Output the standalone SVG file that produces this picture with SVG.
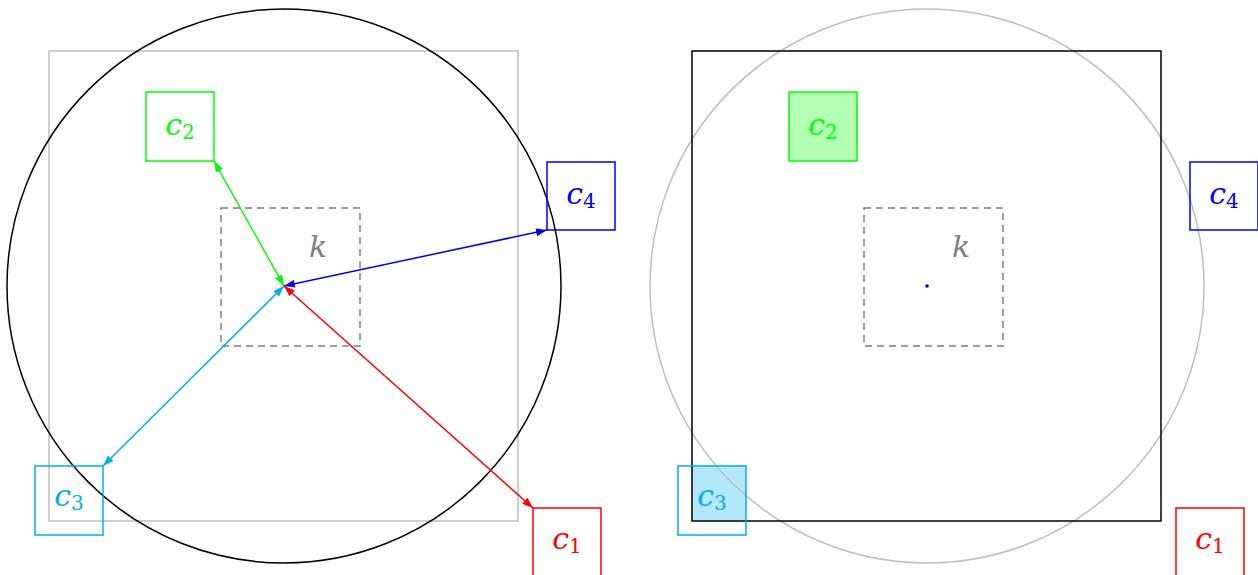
<svg xmlns="http://www.w3.org/2000/svg" width="1258" height="575" viewBox="0 0 1258 575">
<style>
.lbl{font-family:"DejaVu Serif","Liberation Serif",serif;font-size:30px;text-anchor:middle}
.it{font-style:italic}
.sub{font-size:20px;font-style:normal}
.box{fill:none;stroke-width:1.5}
.dash{fill:none;stroke:#808080;stroke-width:1.5;stroke-dasharray:7,5}
</style>
<defs>
<marker id="aG" viewBox="0 0 11 8" refX="11" refY="4" markerWidth="11" markerHeight="8" markerUnits="userSpaceOnUse" orient="auto-start-reverse"><path d="M0,0 L11,4 L0,8 Z" fill="#00ff00"/></marker>
<marker id="aB" viewBox="0 0 11 8" refX="11" refY="4" markerWidth="11" markerHeight="8" markerUnits="userSpaceOnUse" orient="auto-start-reverse"><path d="M0,0 L11,4 L0,8 Z" fill="#0000ff"/></marker>
<marker id="aC" viewBox="0 0 11 8" refX="11" refY="4" markerWidth="11" markerHeight="8" markerUnits="userSpaceOnUse" orient="auto-start-reverse"><path d="M0,0 L11,4 L0,8 Z" fill="#00aeef"/></marker>
<marker id="aR" viewBox="0 0 11 8" refX="11" refY="4" markerWidth="11" markerHeight="8" markerUnits="userSpaceOnUse" orient="auto-start-reverse"><path d="M0,0 L11,4 L0,8 Z" fill="#ff0000"/></marker>
<clipPath id="sqR"><rect x="692" y="51" width="469" height="470"/></clipPath>
</defs>

<!-- Left panel -->
<g id="left-square"><rect x="49" y="51" width="469" height="470" fill="none" stroke="#bfbfbf" stroke-width="1.5"/></g>
<g id="left-circle"><circle cx="284" cy="286" r="277" fill="none" stroke="#000" stroke-width="1.5"/></g>
<g id="left-k"><rect class="dash" x="221" y="208" width="139" height="138"/><text class="lbl it" x="318" y="257" fill="#808080">k</text></g>
<g id="left-c2"><rect class="box" x="146" y="92" width="68" height="69" stroke="#00ff00"/><text class="lbl" x="180" y="135" fill="#00ff00"><tspan class="it">c</tspan><tspan class="sub" dy="4">2</tspan></text></g>
<g id="left-c4"><rect class="box" x="547" y="162" width="68" height="68" stroke="#0000ff"/><text class="lbl" x="581" y="204" fill="#0000ff"><tspan class="it">c</tspan><tspan class="sub" dy="4">4</tspan></text></g>
<g id="left-c3"><rect class="box" x="35" y="466" width="68" height="69" stroke="#00aeef"/><text class="lbl" x="69" y="506" fill="#00aeef"><tspan class="it">c</tspan><tspan class="sub" dy="4">3</tspan></text></g>
<g id="left-c1"><rect class="box" x="533" y="508" width="68" height="70" stroke="#ff0000"/><text class="lbl" x="567" y="549" fill="#ff0000"><tspan class="it">c</tspan><tspan class="sub" dy="4">1</tspan></text></g>

<g id="connectors" stroke-width="1.5" fill="none">
<line x1="214" y1="161" x2="284" y2="286" stroke="#00ff00" marker-start="url(#aG)" marker-end="url(#aG)"/>
<line x1="547" y1="230" x2="284" y2="286" stroke="#0000ff" marker-start="url(#aB)" marker-end="url(#aB)"/>
<line x1="103" y1="466" x2="284" y2="286" stroke="#00aeef" marker-start="url(#aC)" marker-end="url(#aC)"/>
<line x1="533" y1="508" x2="284" y2="286" stroke="#ff0000" marker-start="url(#aR)" marker-end="url(#aR)"/>
</g>

<!-- Right panel -->
<g id="right-c3-fill"><rect x="678" y="466" width="68" height="69" fill="#b3e7fa" clip-path="url(#sqR)"/></g>
<g id="right-c2"><rect x="789" y="92" width="68" height="69" fill="#b3ffb3" stroke="#00ff00" stroke-width="1.5"/><text class="lbl" x="823" y="135" fill="#00ff00"><tspan class="it">c</tspan><tspan class="sub" dy="4">2</tspan></text></g>
<g id="right-circle"><circle cx="927" cy="286" r="277" fill="none" stroke="#bfbfbf" stroke-width="1.5"/></g>
<g id="right-square"><rect x="692" y="51" width="469" height="470" fill="none" stroke="#000" stroke-width="1.5"/></g>
<g id="right-k"><rect class="dash" x="864" y="208" width="139" height="138"/><text class="lbl it" x="961" y="257" fill="#808080">k</text><circle cx="927" cy="286" r="1.8" fill="#0000ff"/></g>
<g id="right-c3"><rect class="box" x="678" y="466" width="68" height="69" stroke="#00aeef"/><text class="lbl" x="712" y="506" fill="#00aeef"><tspan class="it">c</tspan><tspan class="sub" dy="4">3</tspan></text></g>
<g id="right-c4"><rect class="box" x="1190" y="162" width="68" height="68" stroke="#0000ff"/><text class="lbl" x="1224" y="204" fill="#0000ff"><tspan class="it">c</tspan><tspan class="sub" dy="4">4</tspan></text></g>
<g id="right-c1"><rect class="box" x="1176" y="508" width="68" height="70" stroke="#ff0000"/><text class="lbl" x="1210" y="549" fill="#ff0000"><tspan class="it">c</tspan><tspan class="sub" dy="4">1</tspan></text></g>
</svg>
